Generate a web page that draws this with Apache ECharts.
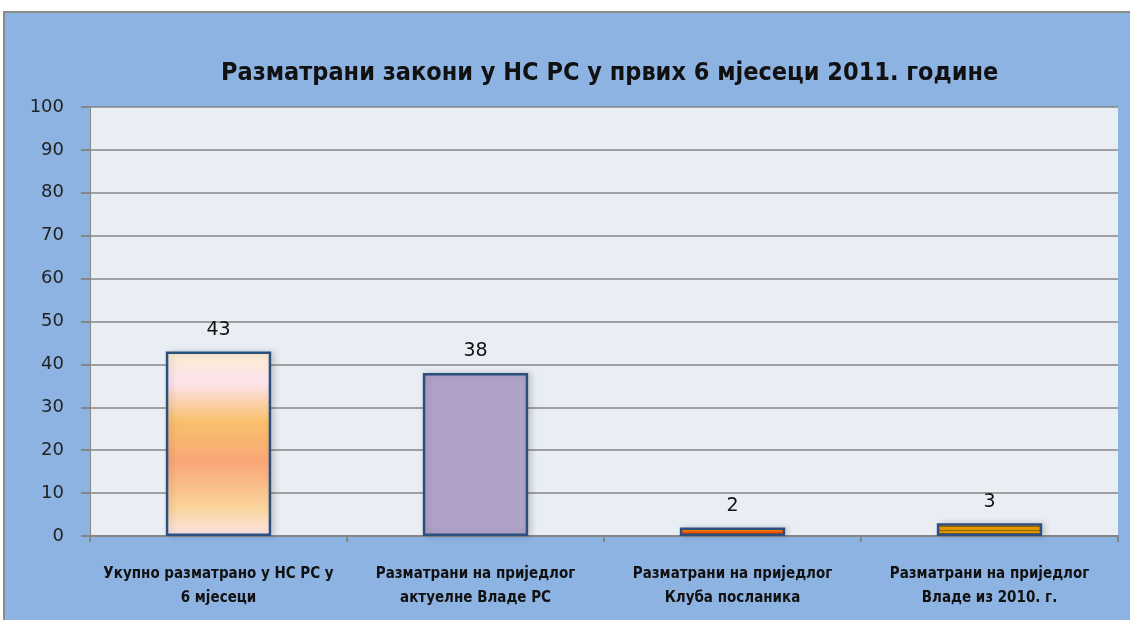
<!DOCTYPE html>
<html>
<head>
<meta charset="utf-8">
<script src="https://cdn.jsdelivr.net/npm/echarts@6/dist/echarts.min.js"></script>
<style>
  html, body { margin: 0; padding: 0; background: #fff; }
  #chart { width: 1130px; height: 620px; }
</style>
</head>
<body>
<div id="chart"></div>
<script>
// categories & values
const categories = [
  'Укупно разматрано у НС РС у\n6 мјесеци',
  'Разматрани на приједлог\nактуелне Владе РС',
  'Разматрани на приједлог\nКлуба посланика',
  'Разматрани на приједлог\nВладе из 2010. г.'
];
const values = [43, 38, 2, 3];
const titleText = 'Разматрани закони у НС РС у првих 6 мјесеци 2011. године';

const myChart = echarts.init(document.getElementById('chart'));

// bar fills, one per category
const grad = (stops) => new echarts.graphic.LinearGradient(0, 0, 0, 1, stops);
const fills = [
  grad([
    { offset: 0, color: '#fdebd0' },
    { offset: 0.17, color: '#fde4ee' },
    { offset: 0.38, color: '#f9c06c' },
    { offset: 0.6, color: '#faa678' },
    { offset: 0.85, color: '#fad59c' },
    { offset: 1, color: '#fde6e8' }
  ]),
  '#b0a2c7',
  grad([
    { offset: 0, color: '#ffb000' },
    { offset: 0.5, color: '#ff6a00' },
    { offset: 1, color: '#dd0000' }
  ]),
  grad([
    { offset: 0, color: '#e89c00' }, { offset: 0.2, color: '#e89c00' },
    { offset: 0.2, color: '#9a6600' }, { offset: 0.3, color: '#9a6600' },
    { offset: 0.3, color: '#e89c00' }, { offset: 0.5, color: '#e89c00' },
    { offset: 0.5, color: '#9a6600' }, { offset: 0.6, color: '#9a6600' },
    { offset: 0.6, color: '#e89c00' }, { offset: 0.8, color: '#e89c00' },
    { offset: 0.8, color: '#9a6600' }, { offset: 0.9, color: '#9a6600' },
    { offset: 0.9, color: '#e89c00' }, { offset: 1, color: '#e89c00' }
  ])
];

const options = {
  backgroundColor: '#ffffff',
  animation: false,
  graphic: [
    {
      type: 'rect',
      z: -10,
      shape: { x: 4, y: 12, width: 1130, height: 620 },
      style: { fill: '#8db3e2', stroke: '#8a8a8a', lineWidth: 2 }
    },
    {
      type: 'rect',
      z: -9,
      shape: { x: 90, y: 107, width: 1028, height: 429 },
      style: { fill: '#e9edf4' }
    }
  ],
  title: {
    text: titleText,
    left: 216,
    top: 56,
    textStyle: {
      fontFamily: 'DejaVu Sans Condensed',
      fontSize: 25,
      fontWeight: 'bold',
      color: '#111'
    }
  },
  grid: {
    left: 90,
    right: 12,
    top: 107,
    bottom: 84
  },
  xAxis: {
    type: 'category',
    data: categories,
    axisLine: { lineStyle: { color: '#868686', width: 2 } },
    axisTick: { show: true, length: 6, lineStyle: { color: '#868686', width: 2 } },
    axisLabel: {
      interval: 0,
      margin: 26,
      lineHeight: 24,
      fontFamily: 'DejaVu Sans Condensed',
      fontSize: 15,
      fontWeight: 'bold',
      color: '#111'
    }
  },
  yAxis: {
    type: 'value',
    min: 0,
    max: 100,
    interval: 10,
    axisLine: { show: true, lineStyle: { color: '#868686', width: 1 } },
    axisTick: { show: true, length: 9, lineStyle: { color: '#868686', width: 2 } },
    splitLine: { show: true, lineStyle: { color: '#868686', width: 1.5 } },
    axisLabel: {
      margin: 26,
      fontFamily: 'DejaVu Sans',
      fontSize: 18,
      color: '#222'
    }
  },
  series: [
    {
      type: 'bar',
      barWidth: '41%',
      data: values.map((v, i) => ({
        value: v,
        itemStyle: { color: fills[i] }
      })),
      itemStyle: {
        borderColor: '#2b4f7e',
        borderWidth: 2.5,
        shadowBlur: 6,
        shadowOffsetX: 3,
        shadowOffsetY: 0,
        shadowColor: 'rgba(0,0,0,0.15)'
      },
      label: {
        show: true,
        position: 'top',
        distance: 12,
        fontFamily: 'DejaVu Sans',
        fontSize: 19,
        color: '#111'
      }
    }
  ]
};

myChart.setOption(options);
</script>
</body>
</html>
